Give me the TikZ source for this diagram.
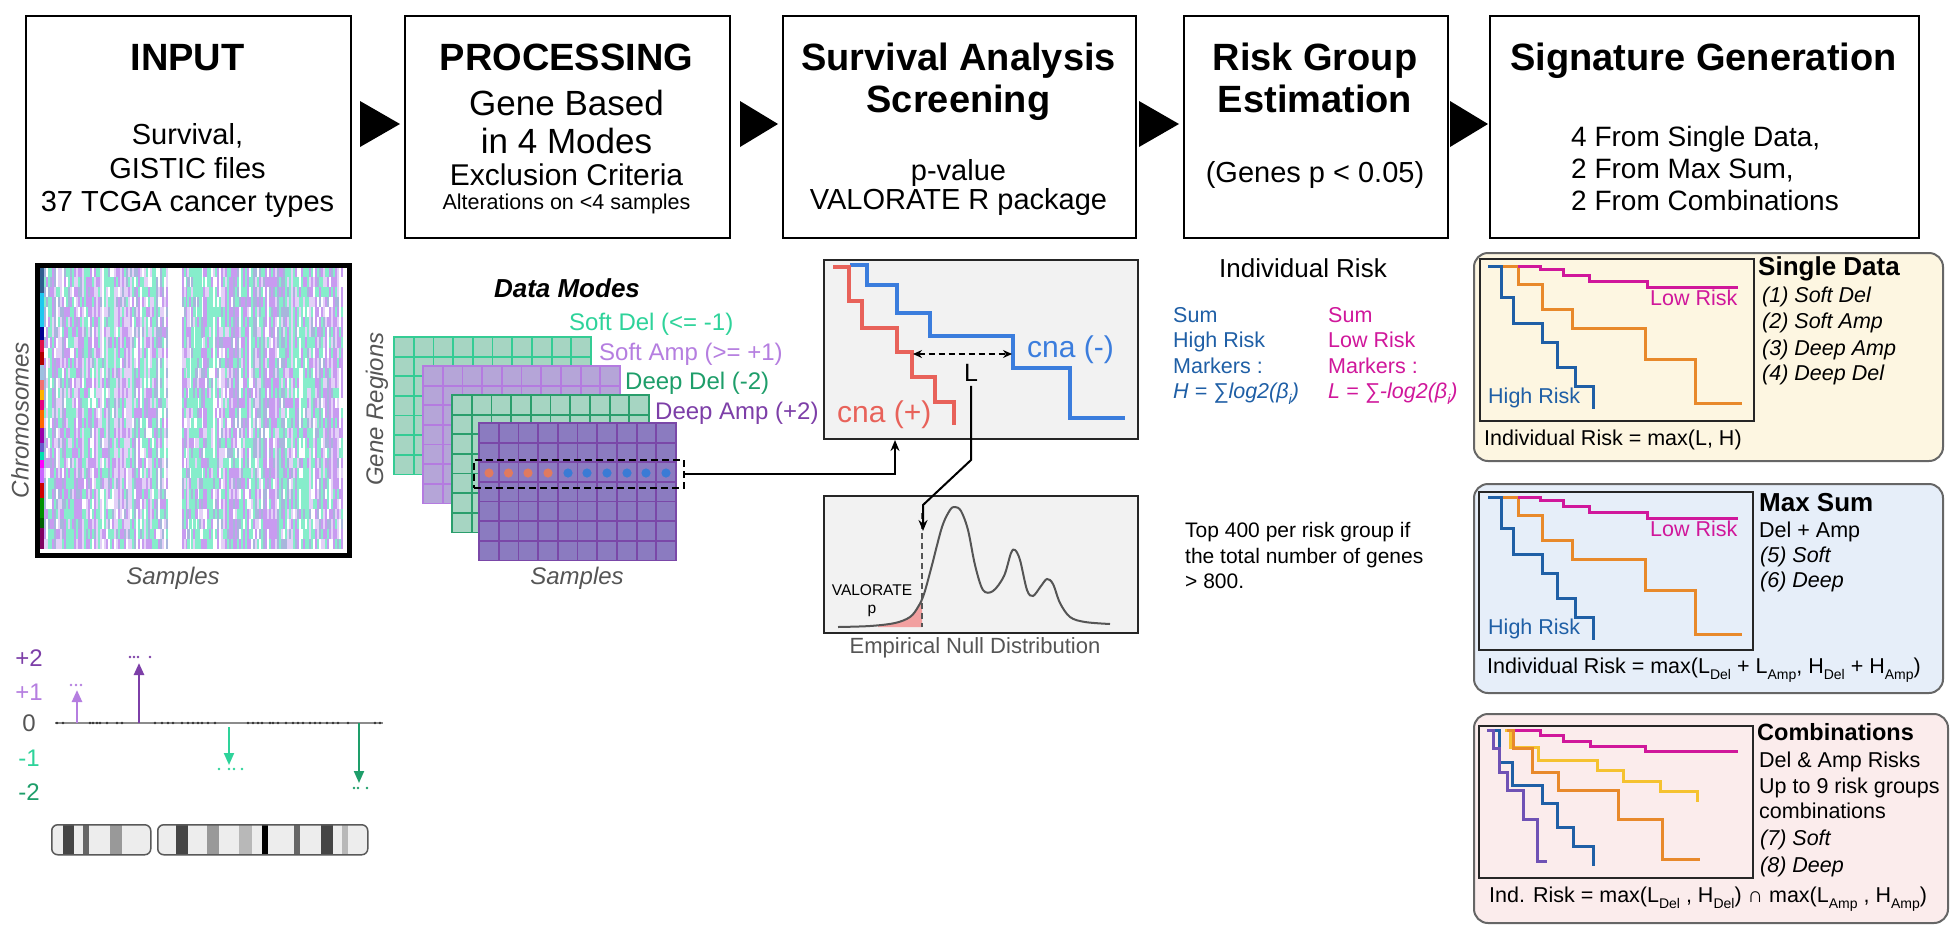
\documentclass[tikz,border=0pt]{standalone}
\usepackage{fontspec}
\setmainfont{Liberation Sans}
\usetikzlibrary{arrows.meta}
\newcommand\fs[1]{\fontsize{#1}{#1}\selectfont}
\newcommand\sbs[1]{\raisebox{-0.55ex}{\fontsize{14}{14}\selectfont #1}}
\definecolor{cSoftDel}{HTML}{2ED39A}
\definecolor{cSoftAmp}{HTML}{B57EE0}
\definecolor{cDeepDel}{HTML}{1E9E6A}
\definecolor{cDeepAmp}{HTML}{7D3FA8}
\definecolor{cBlue}{HTML}{1F5FA6}
\definecolor{cMag}{HTML}{D0179B}
\definecolor{cOrange}{HTML}{E8892B}
\definecolor{cYellow}{HTML}{F5C230}
\definecolor{cPurple}{HTML}{6F52B5}
\definecolor{cRed}{HTML}{E8625A}
\definecolor{cKmBlue}{HTML}{3B7DDD}
\definecolor{cDotO}{HTML}{E07A5F}
\definecolor{cDotB}{HTML}{3A7BD5}
\definecolor{axgray}{HTML}{555555}
\definecolor{pgray}{HTML}{666666}
\definecolor{hpur}{HTML}{C89BF0}
\definecolor{hgrn}{HTML}{86EDCB}
\definecolor{hblu}{HTML}{A8B6DC}
\definecolor{hpal}{HTML}{E3D0F7}
\definecolor{pCream}{HTML}{FDF6E1}
\definecolor{pBlue}{HTML}{E6EEF9}
\definecolor{pPink}{HTML}{FBECEC}
\definecolor{lgF}{HTML}{A6D5C2}
\definecolor{lgS1}{HTML}{34CC94}
\definecolor{lgS2}{HTML}{2A9E6C}
\definecolor{lpF}{HTML}{B5A5D8}
\definecolor{lpS}{HTML}{B47BE0}
\definecolor{ldF}{HTML}{8B7BC0}
\definecolor{ldS}{HTML}{7A48A8}
\definecolor{pinkfill}{HTML}{F2A0A0}
\newcommand\dmlayer[4]{%
  \fill[#3] (#1,#2) rectangle ++(197,137.5);
  \foreach \k in {1,...,9}{\draw[#4,line width=1.8pt] ({#1+\k*19.7},#2) -- ++(0,137.5);}
  \foreach \k in {1,...,6}{\draw[#4,line width=1.8pt] (#1,{#2+\k*19.64}) -- ++(197,0);}
  \draw[#4,line width=1.8pt] (#1,#2) rectangle ++(197,137.5);
}
\tikzset{
  tbox/.style={draw=black, line width=2pt, fill=white, anchor=north west, inner sep=0pt, minimum height=222pt},
  ttl/.style={font=\fs{38}\bfseries, anchor=base, inner sep=0pt},
  btx/.style={font=\fs{29}, anchor=base, inner sep=0pt},
  lbl/.style={anchor=base west, inner sep=0pt},
  axl/.style={font=\fs{24}\itshape, text=axgray, inner sep=0pt},
  km/.style={line width=3.5pt},
  rk/.style={line width=3pt},
  panel/.style={draw=pgray, line width=2pt, rounded corners=14pt, anchor=north west, inner sep=0pt},
  ibox/.style={draw=black!85, line width=1.8pt, anchor=north west, inner sep=0pt},
  tri/.style={fill=black},
  rtx/.style={font=\fs{21.5}, anchor=base west, inner sep=0pt},
  rit/.style={font=\fs{21.5}\itshape, anchor=base west, inner sep=0pt},
  rhd/.style={font=\fs{26}\bfseries, anchor=base west, inner sep=0pt},
  adot/.style={fill=black!80},
}
\begin{document}
\begin{tikzpicture}[x=1pt,y=-1pt]
\fill[white] (0,0) rectangle (1959,943);
\useasboundingbox (0,0) rectangle (1959,943);

% ---------------- top boxes ----------------
\node[tbox, minimum width=325pt] (b1) at (25,15) {};
\node[tbox, minimum width=325pt] (b2) at (404,15) {};
\node[tbox, minimum width=353pt] (b3) at (782,15) {};
\node[tbox, minimum width=264pt] (b4) at (1183,15) {};
\node[tbox, minimum width=429pt] (b5) at (1489,15) {};
\fill[tri] (360,101) -- (400,124) -- (360,147) -- cycle;
\fill[tri] (740,101) -- (778,124) -- (740,147) -- cycle;
\fill[tri] (1139,101) -- (1179,124) -- (1139,147) -- cycle;
\fill[tri] (1450,101) -- (1488,124) -- (1450,147) -- cycle;

\node[ttl] (t1) at (187.5,70) {INPUT};
\node[btx] (t1a) at (187.5,144) {Survival,};
\node[btx] (t1b) at (187.5,178) {GISTIC files};
\node[btx] (t1c) at (187.5,211) {37 TCGA cancer types};

\node[ttl] (t2) at (566.5,70) {PROCESSING};
\node[btx,font=\fs{35}] (t2a) at (566.5,115) {Gene Based};
\node[btx,font=\fs{35}] (t2b) at (566.5,153) {in 4 Modes};
\node[btx,font=\fs{30}] (t2c) at (566.5,185) {Exclusion Criteria};
\node[btx,font=\fs{21.5}] (t2d) at (566.5,209) {Alterations on <4 samples};

\node[ttl] (t3) at (958.5,70) {Survival Analysis};
\node[ttl] (t3b) at (958.5,112) {Screening};
\node[btx] (t3c) at (958.5,180) {p-value};
\node[btx] (t3d) at (958.5,209) {VALORATE R package};

\node[ttl] (t4) at (1315,70) {Risk Group};
\node[ttl] (t4b) at (1315,112) {Estimation};
\node[btx] (t4c) at (1315,182) {(Genes p < 0.05)};

\node[ttl] (t5) at (1703.5,70) {Signature Generation};
\node[btx,font=\fs{28}, anchor=base west] (t5a) at (1571,146) {4 From Single Data,};
\node[btx,font=\fs{28}, anchor=base west] (t5b) at (1571,178) {2 From Max Sum,};
\node[btx,font=\fs{28}, anchor=base west] (t5c) at (1571,210) {2 From Combinations};

% ---------------- heatmap ----------------
\pgfmathsetseed{11}
\foreach \i in {0,...,149}{
  \pgfmathrandominteger{\cb}{0}{6}
  \foreach \j in {0,...,27}{
    \pgfmathrandominteger{\hr}{0}{9}
    \ifnum\hr<5 \let\hk\cb \else \pgfmathrandominteger{\hk}{0}{6}\fi
    \ifnum\i>61 \ifnum\i<69 \def\hk{0}\fi\fi
    \ifcase\hk \def\hc{white}\or \def\hc{hpur}\or \def\hc{hgrn}\or \def\hc{hblu}\or \def\hc{hpal}\or \def\hc{hpur}\or \def\hc{hgrn}\fi
    \ifnum\hk=0 \else \fill[\hc] ({44+\i*1.993},{267+\j*10.07}) rectangle ++(2.05,10.12);\fi
  }
}
\foreach \ya/\yb/\cc in {268/293/2E5E8E,293/327/1EC8F0,327/340/000090,340/352/E0104A,352/365/B00000,365/380/9EC0E0,380/390/F07070,390/400/FFB300,400/410/E6007E,410/428/FF6A00,428/443/9900AA,443/452/6A5ACD,452/460/00E0B0,460/468/FF00FF,468/483/CC66FF,483/498/CC0000,498/518/009000,518/528/006000,528/549/800060}{
  \definecolor{tmpc}{HTML}{\cc}
  \fill[tmpc] (39,\ya) rectangle (44,\yb);
}
\node[draw=black, line width=4.5pt, anchor=north west, minimum width=312pt, minimum height=290pt, inner sep=0pt] (heat) at (35,263) {};
\node[axl, rotate=90] (chrl) at (20,420) {Chromosomes};
\node[axl, anchor=base] (smp1) at (173,584) {Samples};

% ---------------- data modes ----------------
\node[font=\fs{26}\bfseries\itshape, anchor=base, inner sep=0pt] (dmt) at (567,297) {Data Modes};
\dmlayer{394}{337}{lgF}{lgS1}
\dmlayer{423}{366}{lpF}{lpS}
\dmlayer{452}{395}{lgF}{lgS2}
\dmlayer{479}{423}{ldF}{ldS}
\node[lbl, font=\fs{24}, text=cSoftDel] (lsd) at (569,330) {Soft Del (<= -1)};
\node[lbl, font=\fs{24}, text=cSoftAmp] (lsa) at (599,360) {Soft Amp (>= +1)};
\node[lbl, font=\fs{24}, text=cDeepDel] (ldd) at (625,389) {Deep Del (-2)};
\node[lbl, font=\fs{24}, text=cDeepAmp] (lda) at (655,419) {Deep Amp (+2)};
\node[axl, rotate=90] (grl) at (377,409) {Gene Regions};
\node[axl, anchor=base] (smp2) at (577,584) {Samples};
\foreach \xx in {489,508.5,528,548}{\fill[cDotO] (\xx,473) circle (4.6);}
\foreach \xx in {568,587,607,627,646,666}{\fill[cDotB] (\xx,473) circle (4.6);}
\node[draw=black, dashed, dash pattern=on 7pt off 4pt, line width=2pt, minimum width=210pt, minimum height=28pt, inner sep=0pt] (sel) at (579,474) {};

% ---------------- survival box ----------------
\node[draw=black!85, fill=black!5, line width=2pt, anchor=north west, minimum width=314pt, minimum height=179pt, inner sep=0pt] (km) at (823,259) {};
\draw[km, cKmBlue] (850,265) -- (867,265) -- (867,285) -- (897,285) -- (897,313) -- (930,313) -- (930,336) -- (1013,336) -- (1013,368) -- (1070,368) -- (1070,418) -- (1125,418);
\draw[km, cRed] (833,267) -- (849,267) -- (849,301) -- (862,301) -- (862,328) -- (897,328) -- (897,352) -- (912,352) -- (912,377) -- (935,377) -- (935,402) -- (954,402) -- (954,425);
\coordinate (da1) at (913,354);
\coordinate (da2) at (1012,354);
\draw[line width=1.8pt, dash pattern=on 6pt off 4pt, {Stealth[length=9pt,width=8pt]}-{Stealth[length=9pt,width=8pt]}] (da1) -- (da2);
\node[font=\fs{25}, inner sep=0pt] (Lnode) at (971,373) {L};
\node[lbl, font=\fs{30}, text=cKmBlue] (cnam) at (1027,357) {cna (-)};
\node[lbl, font=\fs{30}, text=cRed] (cnap) at (837,422) {cna (+)};
\draw[line width=2pt, -{Stealth[length=11pt,width=9pt]}] (sel.east) -| ([xshift=-86pt]km.south);

% ---------------- null distribution ----------------
\node[draw=black!85, fill=black!5, line width=2pt, anchor=north west, minimum width=314pt, minimum height=137pt, inner sep=0pt] (nul) at (823,495) {};
\fill[pinkfill] (878,627) -- plot[smooth] coordinates {(878,626) (895,623) (910,617) (918,607) (922,598)} -- (922,627) -- cycle;
\draw[axgray, line width=2.2pt, dash pattern=on 6pt off 4pt] (922,513) -- (922,627);
\draw[axgray, line width=2pt] plot[smooth, tension=0.55] coordinates {(838,627) (870,626) (895,623) (910,617) (918,607) (924,594) (932,565) (942,527) (950,510) (955,507) (961,511) (968,530) (975,565) (983,590) (993,591) (1004,576) (1011,553) (1015,550) (1020,560) (1027,590) (1033,596) (1041,586) (1047,579) (1053,584) (1060,603) (1070,617) (1085,622) (1110,624)};
\node[font=\fs{15.5}, anchor=base, inner sep=0pt] (valo) at (872,595) {VALORATE};
\node[font=\fs{15.5}, anchor=base, inner sep=0pt] (valp) at (872,613) {p};
\node[font=\fs{22}, text=axgray, anchor=base, inner sep=0pt] (enull) at (975,653) {Empirical Null Distribution};
\coordinate (lb1) at (969,460);
\coordinate (lb2) at (923,505);
\coordinate (ltip) at (923,531);
\draw[line width=2pt, -{Stealth[length=11pt,width=9pt]}] ([yshift=-4pt]Lnode.south) -- (Lnode.south |- lb1) -- (lb2) -- (ltip);

% ---------------- individual risk ----------------
\node[font=\fs{26}, anchor=base, inner sep=0pt] (irt) at (1303,277) {Individual Risk};
\node[rtx, text=cBlue] (h1) at (1173,322) {Sum};
\node[rtx, text=cBlue] (h2) at (1173,347) {High Risk};
\node[rtx, text=cBlue] (h3) at (1173,373) {Markers :};
\node[rit, text=cBlue] (h4) at (1173,398) {H = ∑log2(β\sbs{i})};
\node[rtx, text=cMag] (l1) at (1328,322) {Sum};
\node[rtx, text=cMag] (l2) at (1328,347) {Low Risk};
\node[rtx, text=cMag] (l3) at (1328,373) {Markers :};
\node[rit, text=cMag] (l4) at (1328,398) {L = ∑-log2(β\sbs{i})};
\node[rtx, font=\fs{21}] (tp1) at (1185,537) {Top 400 per risk group if};
\node[rtx, font=\fs{21}] (tp2) at (1185,563) {the total number of genes};
\node[rtx, font=\fs{21}] (tp3) at (1185,588) {> 800.};

% ---------------- right panels ----------------
\node[panel, fill=pCream, minimum width=469pt, minimum height=208pt] (p1) at (1473,252) {};
\node[ibox, minimum width=274pt, minimum height=162pt] (i1) at (1479,258) {};
\node[panel, fill=pBlue, minimum width=469pt, minimum height=209pt] (p2) at (1473,483) {};
\node[ibox, minimum width=274pt, minimum height=158pt] (i2) at (1478,491) {};
\node[panel, fill=pPink, minimum width=474pt, minimum height=209pt] (p3) at (1473,713) {};
\node[ibox, minimum width=274pt, minimum height=152pt] (i3) at (1478,725) {};

\foreach \dy in {0,231}{
\begin{scope}[yshift=-\dy pt]
\draw[rk, cBlue] (1488,266) -- (1501,266) -- (1501,297) -- (1513,297) -- (1513,323) -- (1542,323) -- (1542,342) -- (1557,342) -- (1557,367) -- (1575,367) -- (1575,386) -- (1593,386) -- (1593,409);
\draw[rk, cOrange] (1503,266) -- (1518,266) -- (1518,284) -- (1542,284) -- (1542,309) -- (1572,309) -- (1572,328) -- (1645,328) -- (1645,359) -- (1695,359) -- (1695,403) -- (1742,403);
\draw[rk, cMag] (1518,266) -- (1540,266) -- (1540,269) -- (1563,269) -- (1563,275) -- (1589,275) -- (1589,281) -- (1647,281) -- (1647,287) -- (1738,287);
\end{scope}}
\node[rtx, text=cMag] (lr1) at (1650,305) {Low Risk};
\node[rtx, text=cBlue] (hr1) at (1488,403) {High Risk};
\node[rhd] (sd) at (1758,275) {Single Data};
\node[rit] (s1) at (1762,302) {(1) Soft Del};
\node[rit] (s2) at (1762,328) {(2) Soft Amp};
\node[rit] (s3) at (1762,355) {(3) Deep Amp};
\node[rit] (s4) at (1762,380) {(4) Deep Del};
\node[rtx] (f1) at (1484,445) {Individual Risk = max(L, H)};

\node[rtx, text=cMag] (lr2) at (1650,536) {Low Risk};
\node[rtx, text=cBlue] (hr2) at (1488,634) {High Risk};
\node[rhd] (ms) at (1759,511) {Max Sum};
\node[rtx] (m1) at (1759,537) {Del + Amp};
\node[rit] (m2) at (1760,562) {(5) Soft};
\node[rit] (m3) at (1760,587) {(6) Deep};
\node[rtx] (f2) at (1487,673) {Individual Risk = max(L\sbs{Del} + L\sbs{Amp}, H\sbs{Del} + H\sbs{Amp})};

\draw[rk, cMag] (1515,730) -- (1540,730) -- (1540,735) -- (1563,735) -- (1563,741) -- (1590,741) -- (1590,746) -- (1645,746) -- (1645,751) -- (1738,751);
\draw[rk, cYellow] (1505,730) -- (1510,730) -- (1510,747) -- (1538,747) -- (1538,760) -- (1597,760) -- (1597,770) -- (1623,770) -- (1623,781) -- (1660,781) -- (1660,791) -- (1697,791) -- (1697,802);
\draw[rk, cOrange] (1507,730) -- (1513,730) -- (1513,748) -- (1532,748) -- (1532,772) -- (1558,772) -- (1558,790) -- (1618,790) -- (1618,819) -- (1662,819) -- (1662,859) -- (1700,859);
\draw[rk, cBlue] (1490,730) -- (1499,730) -- (1499,762) -- (1512,762) -- (1512,785) -- (1542,785) -- (1542,803) -- (1557,803) -- (1557,827) -- (1573,827) -- (1573,846) -- (1593,846) -- (1593,866);
\draw[rk, cPurple] (1487,730) -- (1493,730) -- (1493,748) -- (1499,748) -- (1499,772) -- (1507,772) -- (1507,790) -- (1523,790) -- (1523,819) -- (1537,819) -- (1537,861) -- (1547,861);
\node[rhd, font=\fs{23.5}\bfseries] (cb) at (1757,740) {Combinations};
\node[rtx] (c1) at (1759,767) {Del \& Amp Risks};
\node[rtx] (c2) at (1759,793) {Up to 9 risk groups};
\node[rtx] (c3) at (1759,818) {combinations};
\node[rit] (c4) at (1760,845) {(7) Soft};
\node[rit] (c5) at (1760,872) {(8) Deep};
\node[rtx] (f3) at (1489,902) {Ind. Risk = max(L\sbs{Del} , H\sbs{Del}) ∩ max(L\sbs{Amp} , H\sbs{Amp})};

% ---------------- chromosome plot ----------------
\node[font=\fs{24}, text=cDeepAmp, inner sep=0pt] (v2) at (29,658) {+2};
\node[font=\fs{24}, text=cSoftAmp, inner sep=0pt] (v1) at (29,692) {+1};
\node[font=\fs{24}, text=axgray, inner sep=0pt] (v0) at (29,723) {0};
\node[font=\fs{24}, text=cSoftDel, inner sep=0pt] (vm1) at (29,758) {-1};
\node[font=\fs{24}, text=cDeepDel, inner sep=0pt] (vm2) at (29,792) {-2};
\draw[black!45, line width=1.2pt] (55,723) -- (383,723);
\foreach \xx in {57,63,90,93,97,100,107,117,122,155,162,168,173,182,188,193,198,202,208,215,248,253,258,262,270,273,278,286,293,298,303,310,315,320,327,333,338,348,375,380}{\fill[adot] (\xx,723) circle (1.3);}
\draw[cSoftAmp, line width=2.5pt, -{Triangle[length=12pt,width=10pt]}] (77,723) -- (77,690);
\foreach \xx in {71,76,81}{\fill[cSoftAmp] (\xx,685) circle (1.3);}
\draw[cDeepAmp, line width=2.5pt, -{Triangle[length=12pt,width=10pt]}] (139,723) -- (139,663);
\foreach \xx in {130,134,138,150}{\fill[cDeepAmp] (\xx,657) circle (1.3);}
\draw[cSoftDel, line width=2pt, -{Triangle[length=12pt,width=10pt]}] (229,727) -- (229,765);
\foreach \xx in {219,229,234,242}{\fill[cSoftDel] (\xx,769) circle (1.3);}
\draw[cDeepDel, line width=2pt, -{Triangle[length=12pt,width=10pt]}] (359,723) -- (359,783);
\foreach \xx in {354,358,367}{\fill[cDeepDel] (\xx,788) circle (1.3);}

\begin{scope}
\clip[rounded corners=6pt] (51,824) rectangle (150,854);
\fill[black!7] (51,824) rectangle (150,854);
\fill[black!73] (63,824) rectangle (74,854);
\fill[black!60] (83,824) rectangle (89,854);
\fill[black!40] (110,824) rectangle (122,854);
\end{scope}
\node[draw=black!65, line width=1.5pt, rounded corners=6pt, anchor=north west, minimum width=99pt, minimum height=30pt, inner sep=0pt] (chA) at (51,824) {};
\begin{scope}
\clip[rounded corners=6pt] (157,824) rectangle (367,854);
\fill[black!7] (157,824) rectangle (367,854);
\fill[black!73] (176,824) rectangle (188,854);
\fill[black!40] (207,824) rectangle (219,854);
\fill[black!28] (239,824) rectangle (252,854);
\fill[black] (262,824) rectangle (268,854);
\fill[black!60] (294,824) rectangle (300,854);
\fill[black!73] (321,824) rectangle (333,854);
\fill[black!28] (342,824) rectangle (348,854);
\end{scope}
\node[draw=black!65, line width=1.5pt, rounded corners=6pt, anchor=north west, minimum width=210pt, minimum height=30pt, inner sep=0pt] (chB) at (157,824) {};
\end{tikzpicture}
\end{document}
